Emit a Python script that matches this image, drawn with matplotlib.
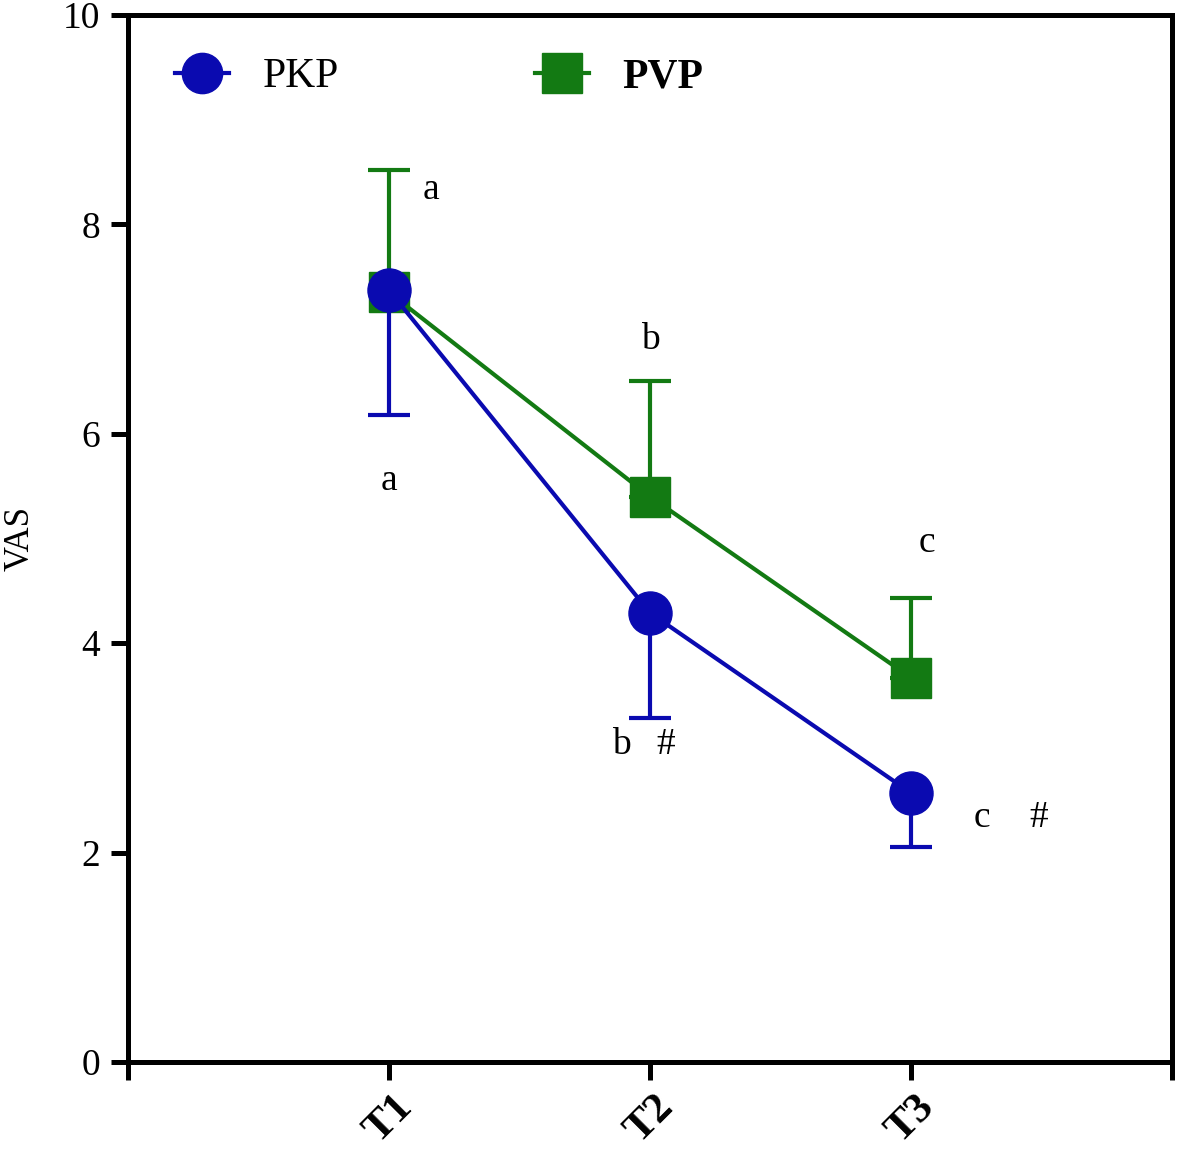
import numpy as np
import matplotlib.pyplot as plt
from matplotlib.lines import Line2D

# data
times = ['T1', 'T2', 'T3']
x_pos = [1, 2, 3]
pkp_mean = [7.37, 4.29, 2.57]
pkp_err_low = [1.19, 1.00, 0.52]
pvp_mean = [7.35, 5.40, 3.67]
pvp_err_up = [1.17, 1.10, 0.76]

# significance marks: (x, y, text)
marks_x = [1.16, 1.0, 2.0, 1.89, 2.06, 3.06, 3.27, 3.49]
marks_y = [8.33, 5.55, 6.90, 3.03, 3.03, 4.96, 2.33, 2.33]
marks_txt = ['a', 'a', 'b', 'b', '#', 'c', 'c', '#']

BLUE = '#0A0AB0'
GREEN = '#137A13'

plt.rcParams['font.family'] = ['Liberation Serif', 'DejaVu Serif']

fig = plt.figure(figsize=(11.79, 11.5), dpi=100)
ax = fig.add_axes([0.1086, 0.0765, 0.8855, 0.9105])

ax.errorbar(x_pos, pvp_mean, yerr=[np.zeros(3), pvp_err_up], color=GREEN,
            lw=3, marker='s', markersize=29, capsize=15, capthick=3,
            elinewidth=3, zorder=2)
ax.errorbar(x_pos, pkp_mean, yerr=[pkp_err_low, np.zeros(3)], color=BLUE,
            lw=3, marker='o', markersize=31, capsize=15, capthick=3,
            elinewidth=3, zorder=3)

for mx, my, t in zip(marks_x, marks_y, marks_txt):
    ax.text(mx, my, t, fontsize=27, ha='center', va='center')

ax.set_xlim(0, 4)
ax.set_ylim(0, 10)
ax.set_xticks([0, 1, 2, 3, 4])
ax.set_xticklabels([''] + times + [''], fontsize=31, fontweight='bold',
                   rotation=45, ha='center')
ax.set_yticks([0, 2, 4, 6, 8, 10])
ax.tick_params(axis='y', labelsize=27, width=3.6, length=12, pad=8)
ax.tick_params(axis='x', width=3.6, length=13, pad=6)
for s in ax.spines.values():
    s.set_linewidth(3.6)
ax.set_ylabel('VAS', fontsize=25)
ax.yaxis.set_label_coords(-0.088, 0.5)

handles = [Line2D([], [], color=BLUE, marker='o', markersize=29, lw=3),
           Line2D([], [], color=GREEN, marker='s', markersize=29, lw=3)]
leg = ax.legend(handles, ['PKP', 'PVP'], ncol=2, frameon=False, fontsize=30,
                loc='upper left', bbox_to_anchor=(0.009, 0.995),
                handlelength=1.3, columnspacing=4.7, handletextpad=0.8)
leg.get_texts()[1].set_fontweight('bold')

fig.savefig('out.png', dpi=100)
